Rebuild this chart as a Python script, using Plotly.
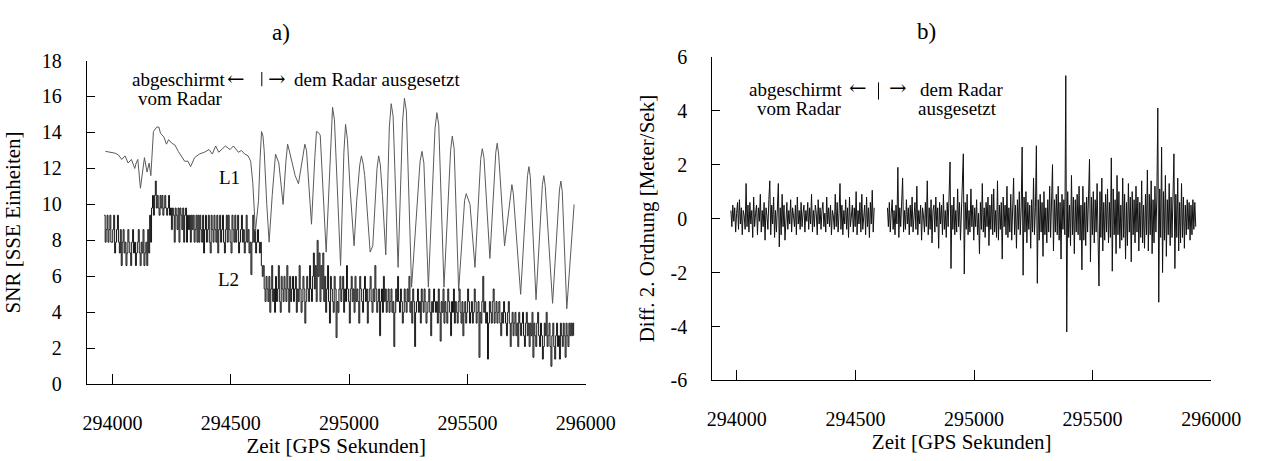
import plotly.graph_objects as go

# ---------------- data: panel a) ----------------
L1_T = [293970, 293998, 294011, 294025, 294039, 294053, 294066, 294080, 294094, 294100,
        294107, 294118, 294128, 294135, 294146, 294155, 294162, 294173, 294187, 294196,
        294203, 294217, 294228, 294237, 294251, 294264, 294278, 294292, 294305, 294319,
        294330, 294347, 294367, 294388, 294408, 294422, 294436, 294449, 294477, 294497,
        294511, 294532, 294545, 294559, 294573, 294584, 294593, 294604, 294617, 294624,
        294630, 294636, 294641, 294652, 294662, 294675, 294689, 294703, 294721, 294733,
        294740, 294747, 294758, 294772, 294786, 294799, 294807, 294813, 294820, 294827,
        294841, 294855, 294862, 294870, 294878, 294903, 294922, 294930, 294938, 294950,
        294964, 294978, 294985, 294993, 295004, 295021, 295032, 295045, 295052, 295059,
        295066, 295089, 295100, 295118, 295125, 295132, 295141, 295155, 295170, 295178,
        295186, 295207, 295226, 295234, 295242, 295264, 295300, 295308, 295316, 295335,
        295363, 295371, 295379, 295401, 295429, 295436, 295444, 295463, 295488, 295495,
        295511, 295532, 295556, 295563, 295570, 295595, 295620, 295626, 295632, 295657,
        295682, 295688, 295694, 295725, 295754, 295760, 295766, 295790, 295817, 295823,
        295829, 295860, 295889, 295895, 295901, 295920, 295951]
L1_V = [12.95, 12.9, 12.85, 12.75, 12.5, 12.7, 12.3, 12.5, 12.0, 12.3,
        12.5, 10.9, 12.0, 12.6, 11.8, 12.3, 11.6, 14.05, 14.3, 14.3,
        13.95, 13.75, 13.35, 13.6, 13.4, 13.3, 12.95, 12.7, 12.4, 12.4,
        12.1, 12.6, 12.8, 12.9, 13.05, 12.8, 13.25, 12.9, 13.25, 13.05,
        13.25, 12.9, 13.0, 12.8, 12.7, 12.4, 11.2, 8.5, 10.2, 12.6,
        14.05, 13.8, 13.0, 10.0, 7.9, 10.5, 12.8, 12.3, 10.0, 12.4,
        13.35, 13.0, 12.3, 11.6, 11.15, 12.3, 13.1, 13.35, 13.0, 11.8,
        8.9, 12.6, 14.05, 14.0, 13.85, 7.35, 13.6, 15.4, 14.7, 10.5,
        6.6, 12.9, 14.45, 13.6, 10.9, 7.7, 10.2, 12.2, 12.7, 12.3,
        11.6, 7.35, 7.7, 12.0, 12.7, 12.2, 10.5, 7.2, 14.3, 15.6,
        14.9, 6.5, 14.6, 15.9, 15.2, 5.4, 12.4, 12.95, 12.3, 5.4,
        14.2, 15.1, 14.4, 5.4, 13.0, 13.8, 13.1, 5.2, 10.2, 10.6,
        10.0, 6.5, 12.5, 13.1, 12.6, 7.0, 12.9, 13.4, 12.8, 7.7,
        10.7, 11.1, 10.6, 5.0, 11.6, 12.1, 11.5, 4.7, 11.1, 11.6,
        11.0, 4.5, 10.8, 11.3, 10.7, 4.2, 10.0]

L2_T0 = 293965
L2_DT = 4
L2_V = [
    9.4, 7.9, 8.6, 9.4, 7.9, 8.6, 9.4, 7.9, 7.9, 8.6,
    9.4, 7.3, 7.9, 8.6, 9.4, 7.9, 7.3, 8.6, 6.6, 7.9,
    8.6, 7.3, 7.9, 6.6, 7.3, 8.6, 7.9, 7.3, 6.6, 7.9,
    8.6, 7.3, 7.9, 6.6, 7.3, 7.9, 8.6, 7.3, 6.6, 7.9,
    7.3, 8.6, 6.6, 7.3, 7.9, 6.6, 8.6, 7.3, 9.4, 7.9,
    9.8, 10.5, 9.4, 10.5, 11.3, 9.8, 10.5, 9.8, 9.4, 10.5,
    9.8, 10.5, 9.4, 9.8, 10.5, 9.8, 9.4, 9.8, 10.5, 9.4,
    9.8, 8.6, 9.8, 9.4, 7.9, 9.8, 9.4, 8.6, 9.8, 7.9,
    9.8, 9.4, 8.6, 9.8, 7.9, 9.4, 9.8, 7.9, 9.4, 8.6,
    9.4, 7.9, 9.4, 8.6, 9.4, 7.9, 8.6, 9.4, 7.9, 9.4,
    7.9, 9.4, 8.6, 7.9, 9.4, 7.3, 8.6, 9.4, 7.9, 8.6,
    9.4, 7.9, 7.3, 9.4, 8.6, 7.9, 9.4, 8.6, 7.9, 9.4,
    7.3, 8.6, 9.4, 7.9, 8.6, 9.4, 7.9, 7.3, 8.6, 9.4,
    7.9, 9.4, 8.6, 7.9, 7.3, 9.4, 8.6, 7.9, 9.4, 7.9,
    8.6, 9.4, 7.3, 7.9, 8.6, 9.4, 7.9, 8.6, 7.3, 7.9,
    9.4, 7.9, 8.6, 7.3, 7.9, 6.1, 7.9, 9.4, 7.9, 8.6,
    7.3, 7.9, 8.6, 7.9, 7.3, 7.9, 6.6, 6.0, 6.6, 5.3,
    4.6, 6.0, 5.3, 4.6, 6.0, 4.0, 5.3, 6.6, 4.6, 5.3,
    4.0, 6.0, 4.6, 5.3, 6.6, 4.6, 4.0, 6.0, 5.3, 4.6,
    6.0, 5.3, 4.6, 6.6, 5.3, 4.0, 6.0, 4.6, 5.3, 6.0,
    4.6, 5.3, 6.0, 4.0, 5.3, 4.6, 6.6, 5.3, 4.0, 4.6,
    6.0, 5.3, 3.4, 4.6, 6.0, 5.3, 4.6, 6.6, 5.3, 4.6,
    6.0, 7.3, 5.3, 6.6, 4.6, 8.0, 6.0, 7.3, 4.6, 6.6,
    5.3, 7.3, 4.6, 6.0, 4.0, 5.3, 6.6, 4.6, 3.4, 6.0,
    5.3, 4.6, 4.0, 6.0, 5.3, 2.6, 4.6, 4.0, 5.3, 6.0,
    4.6, 5.3, 6.0, 4.0, 5.3, 4.6, 6.6, 5.3, 4.6, 3.4,
    5.3, 6.0, 4.6, 5.3, 4.0, 6.0, 4.6, 5.3, 4.6, 3.4,
    6.0, 5.3, 4.6, 4.0, 5.3, 6.0, 4.6, 5.3, 3.4, 4.6,
    5.3, 6.0, 4.6, 4.0, 5.3, 4.6, 6.6, 5.3, 4.0, 4.6,
    5.3, 2.7, 4.6, 5.3, 4.0, 6.0, 4.6, 5.3, 4.0, 4.6,
    5.3, 4.0, 4.6, 5.3, 4.0, 4.6, 2.1, 4.0, 5.3, 4.6,
    6.0, 4.6, 4.0, 5.3, 4.6, 3.4, 4.0, 5.3, 4.6, 4.0,
    5.3, 4.6, 6.0, 4.0, 4.6, 3.4, 5.3, 4.6, 2.1, 4.0,
    4.6, 5.3, 4.0, 4.6, 3.4, 5.3, 4.6, 4.0, 5.3, 4.6,
    3.4, 4.0, 4.6, 5.3, 4.0, 2.7, 4.6, 4.0, 5.3, 4.6,
    4.0, 4.6, 3.4, 5.3, 4.0, 2.4, 4.6, 4.0, 5.3, 3.4,
    4.6, 4.0, 3.4, 5.3, 4.6, 4.0, 2.7, 4.6, 4.0, 5.3,
    3.4, 4.6, 4.0, 3.4, 4.6, 5.3, 4.0, 3.4, 4.6, 2.7,
    4.0, 4.6, 3.4, 4.0, 5.3, 4.6, 3.4, 4.0, 4.6, 3.4,
    4.0, 5.3, 4.6, 3.4, 4.0, 4.6, 1.5, 4.0, 3.4, 4.6,
    6.0, 4.0, 4.6, 3.4, 4.0, 1.4, 3.4, 4.6, 4.0, 3.4,
    4.6, 5.3, 3.4, 4.0, 4.6, 3.4, 4.0, 4.6, 3.4, 2.7,
    4.0, 3.4, 4.6, 4.0, 3.4, 2.7, 4.0, 4.6, 3.4, 2.1,
    3.4, 4.0, 2.7, 3.4, 4.0, 2.7, 3.4, 2.1, 4.0, 3.4,
    2.7, 3.4, 4.0, 2.7, 2.1, 3.4, 4.0, 2.7, 3.4, 2.1,
    3.4, 2.7, 4.0, 1.5, 3.4, 2.7, 2.1, 3.4, 4.0, 2.7,
    2.1, 3.4, 2.7, 1.4, 2.1, 3.4, 2.7, 4.0, 2.1, 2.7,
    3.4, 2.1, 1.0, 2.7, 3.4, 2.1, 1.4, 2.7, 3.4, 2.1,
    2.7, 1.4, 3.4, 2.7, 2.1, 3.4, 2.7, 1.5, 3.4, 2.7,
    2.1, 3.4, 2.7, 3.4, 2.7, 3.4, 2.7,
]

# ---------------- data: panel b) ----------------
B_DT = 4
B_PRE_T0 = 293975
B_PRE_V = [
    0.3, -0.3, 0.5, -0.1, 0.4, -0.5, 0.2, 0.6, -0.4, 0.7,
    -0.2, 0.4, -0.6, 0.3, 0.1, -0.4, 1.3, -0.3, 0.5, -0.5,
    0.6, -0.2, 0.3, -0.7, 0.8, -0.3, 0.2, 0.5, -0.6, 0.4,
    -0.1, 0.9, -0.5, 0.3, -0.3, 0.6, -0.8, 0.4, 0.1, -0.4,
    0.7, 1.4, -0.6, 0.5, -0.2, 0.8, -0.7, 0.3, -0.5, 0.6,
    1.3, -1.05, 0.4, -0.6, 0.9, -0.3, 0.5, -0.8, 0.2, 0.6,
    -0.4, 0.3, -0.2, 0.7, -0.5, 0.4, 0.1, -0.3, 0.5, -0.6,
    0.8, -0.2, 0.3, -0.4, 0.6, -0.3, 0.2, 0.5, -0.5, 0.3,
    -0.1, 0.6, -0.4, 0.4, -0.2, 0.9, -0.5, 0.3, -0.3, 0.5,
    0.2, -0.6, 0.7, -0.2, 0.4, -0.4, 0.3, 0.6, -0.3, 0.2,
    -0.5, 0.8, -0.2, 0.4, -0.3, 0.5, -0.6, 0.3, 0.1, -0.4,
    0.9, -0.3, 0.6, -0.5, 0.2, 1.3, -0.4, 0.5, -0.6, 0.3,
    -0.2, 0.7, -0.4, 0.4, -0.7, 0.8, -0.3, 0.2, 0.5, -0.5,
    0.4, -0.3, 1.0, -0.6, 0.3, -0.2, 0.6, -0.5, 0.9, -0.4,
    0.2, 0.5, -0.6, 0.8, -0.3, 0.4, -0.7, 0.6, -0.2, 1.05,
    -0.5, 0.4,
]
B_POST_T0 = 294635
B_POST_V = [
    0.4, -0.3, 0.6, -0.5, 0.2, 0.7, -0.4, 0.3, -0.6, 0.5,
    -0.2, 1.9, -0.7, 0.4, -0.3, 0.6, 1.5, -0.5, 0.3, -0.4,
    0.7, -0.2, 0.4, -0.6, 0.5, -0.3, 0.8, -0.5, 0.2, 0.6,
    -0.4, 1.2, -0.6, 0.3, -0.2, 0.5, -0.8, 0.4, 0.1, -0.5,
    0.6, -0.3, 1.4, -0.6, 0.4, -0.4, 0.7, -0.9, 0.3, 0.5,
    -0.5, 0.8, -0.3, 0.4, -1.1, 0.6, -0.2, 0.5, -0.6, 0.9,
    -0.4, 0.3, -0.7, 0.6, -0.3, 1.0, 2.1, -1.85, 0.5, -0.4,
    0.8, -0.6, 0.3, -0.5, 1.1, -0.3, 0.6, -0.8, 0.4, 0.7,
    2.4, -2.05, 0.6, -0.4, 0.9, -0.6, 0.3, -0.5, 1.1, -0.3,
    0.5, -0.8, 0.4, -0.3, 0.7, -0.6, 0.2, -1.3, 0.6, -0.4,
    1.3, -0.5, 0.4, -0.7, 0.6, -0.3, 0.8, -1.0, 0.5, -0.4,
    0.9, -0.6, 1.1, -0.5, 0.3, -0.7, 1.4, -0.8, 0.5, -0.4,
    0.6, -1.5, 0.8, -0.3, 0.5, -0.6, 1.2, -0.7, 0.4, -0.5,
    0.9, -0.8, 0.3, 1.5, -0.6, 0.5, -1.1, 0.7, -0.4, 1.0,
    -0.6, 0.4, 2.65, -2.1, 0.8, -0.5, 1.0, -0.9, 0.6, -0.4,
    0.5, -1.1, 0.7, -0.5, 1.5, -0.6, 0.4, 2.7, -2.4, 0.7,
    -0.8, 0.9, -0.5, 0.6, -1.4, 1.0, -0.6, 0.4, -0.9, 0.7,
    -0.5, 1.2, -0.7, 0.5, 2.0, -1.2, 0.7, -0.5, 0.9, -0.6,
    1.2, -0.8, 0.6, -1.5, 0.9, -0.4, 0.7, -0.6, 5.3, -4.2,
    1.0, -0.7, 0.5, -1.0, 1.6, -0.6, 0.8, -1.3, 0.7, -0.5,
    0.9, -0.6, 1.2, -0.8, 0.5, -1.9, 1.2, -0.8, 0.6, -1.0,
    0.8, -0.5, 1.3, 2.2, -1.6, 0.8, -0.6, 1.0, -0.9, 0.7,
    -0.5, 1.3, -0.7, -2.5, 1.0, -0.7, 1.5, -1.2, 0.6, -0.8,
    0.9, -0.5, 1.1, -0.9, 0.6, -0.7, 2.25, -1.95, 1.1, -0.6,
    0.7, -1.3, 1.6, -0.6, 1.0, -1.1, 0.5, -0.8, 1.5, -0.7,
    0.9, -1.5, 0.6, -1.0, 1.3, -0.5, 0.8, -1.6, 1.0, -0.6,
    0.7, -0.9, 1.2, -0.5, 0.8, -1.2, 0.6, -0.7, 1.4, -0.9,
    0.5, -1.1, 0.9, -0.6, 1.8, -1.2, 0.9, -0.6, 1.4, -1.3,
    0.7, -0.9, 1.2, -0.5, 0.8, 4.1, -3.1, 1.1, -0.7, 2.65,
    -2.0, 1.0, -0.8, 1.6, -1.4, 0.7, -0.6, 1.3, -1.0, 0.8,
    -0.7, 1.1, 2.4, -1.85, 0.9, -0.7, 1.5, -1.2, 0.6, -0.9,
    1.3, -0.7, 0.8, -1.1, 0.5, -0.6, 0.7, -0.4, 0.6, -0.8,
    0.5, -0.6, 0.7, -0.4, 0.6, -0.3,
]

X_TICKS = [294000, 294500, 295000, 295500, 296000]
YA_TICKS = [0, 2, 4, 6, 8, 10, 12, 14, 16, 18]
YB_TICKS = [-6, -4, -2, 0, 2, 4, 6]
YB_LABELS = ["-6", "-4", "-2", "0", "2", "4", "6"]

# ---------------- figure ----------------
W, H = 1283, 461
FONT = "Liberation Serif"

l2_t = [L2_T0 + i * L2_DT for i in range(len(L2_V))]
b_pre_t = [B_PRE_T0 + i * B_DT for i in range(len(B_PRE_V))]
b_post_t = [B_POST_T0 + i * B_DT for i in range(len(B_POST_V))]

fig = go.Figure()
fig.add_trace(go.Scatter(x=l2_t, y=L2_V, mode="lines", line=dict(color="#151515", width=1, shape="hv"),
                         name="L2", xaxis="x", yaxis="y"))
fig.add_trace(go.Scatter(x=L1_T, y=L1_V, mode="lines", line=dict(color="#5a5a5a", width=1),
                         name="L1", xaxis="x", yaxis="y"))
fig.add_trace(go.Scatter(x=b_pre_t, y=B_PRE_V, mode="lines", line=dict(color="#111111", width=1),
                         name="b_pre", xaxis="x2", yaxis="y2"))
fig.add_trace(go.Scatter(x=b_post_t, y=B_POST_V, mode="lines", line=dict(color="#111111", width=1),
                         name="b_post", xaxis="x2", yaxis="y2"))


def px_x(p):
    return p / W


def px_y(p):
    return 1 - p / H


axis_common = dict(showgrid=False, zeroline=False, showline=True, linecolor="black", linewidth=1,
                   ticks="inside", tickcolor="black", tickwidth=1,
                   tickfont=dict(family=FONT, size=20, color="black"))
title_font = dict(family=FONT, size=21, color="black")

fig.update_layout(
    width=W, height=H, margin=dict(l=0, r=0, t=0, b=0),
    paper_bgcolor="white", plot_bgcolor="white", showlegend=False,
    font=dict(family=FONT, color="black"),
    xaxis=dict(domain=[px_x(84), px_x(597)], range=[293891, 296000], anchor="y",
               tickvals=X_TICKS, ticktext=[str(v) for v in X_TICKS], ticklen=10,
               ticklabelstandoff=21,
               title=dict(text="Zeit [GPS Sekunden]", font=title_font, standoff=0),
               **axis_common),
    yaxis=dict(domain=[px_y(392), px_y(52)], range=[0, 18], anchor="x",
               tickvals=YA_TICKS, ticklen=8, ticklabelstandoff=20,
               title=dict(text="SNR [SSE Einheiten]", font=title_font, standoff=15),
               **axis_common),
    xaxis2=dict(domain=[px_x(727), px_x(1240)], range=[293896, 296000], anchor="y2",
                tickvals=X_TICKS, ticktext=[str(v) for v in X_TICKS], ticklen=10,
                ticklabelstandoff=21,
                title=dict(text="Zeit [GPS Sekunden]", font=title_font, standoff=0),
                **axis_common),
    yaxis2=dict(domain=[px_y(388), px_y(48)], range=[-6, 6], anchor="x2",
                tickvals=YB_TICKS, ticktext=YB_LABELS, ticklen=8, ticklabelstandoff=20,
                title=dict(text="Diff. 2. Ordnung [Meter/Sek]", font=title_font, standoff=10),
                **axis_common),
)

ann_font = dict(family=FONT, size=19, color="black")
arrow_font = dict(family="DejaVu Serif", size=21, color="black")


def note(text, x, y, anchor="left", font=ann_font):
    return dict(text=text, x=px_x(x), y=px_y(y), xanchor=anchor, yanchor="middle",
                xref="paper", yref="paper", showarrow=False, font=font)


annotations = [
    note("a)", 284, 23, "center", dict(family=FONT, size=23, color="black")),
    note("b)", 947, 22, "center", dict(family=FONT, size=23, color="black")),
    # panel a)
    note("abgeschirmt", 129, 72),
    note("←", 237, 71, "center", arrow_font),
    note("→", 280, 71, "center", arrow_font),
    note("dem Radar ausgesetzt", 295, 72),
    note("vom Radar", 135, 92),
    note("L1", 218, 175),
    note("L2", 217, 282),
    # panel b)
    note("abgeschirmt", 763, 82),
    note("←", 877, 81, "center", arrow_font),
    note("→", 918, 81, "center", arrow_font),
    note("dem Radar", 939, 82),
    note("vom Radar", 771, 102),
    note("ausgesetzt", 937, 102),
]
fig.update_layout(annotations=annotations)

# separator bars between the arrows
sep = dict(type="line", xref="paper", yref="paper", line=dict(color="black", width=1))
fig.update_layout(shapes=[
    dict(sep, x0=px_x(264), x1=px_x(264), y0=px_y(64), y1=px_y(79)),
    dict(sep, x0=px_x(898), x1=px_x(898), y0=px_y(75), y1=px_y(93)),
])

fig.write_html("out.html")
